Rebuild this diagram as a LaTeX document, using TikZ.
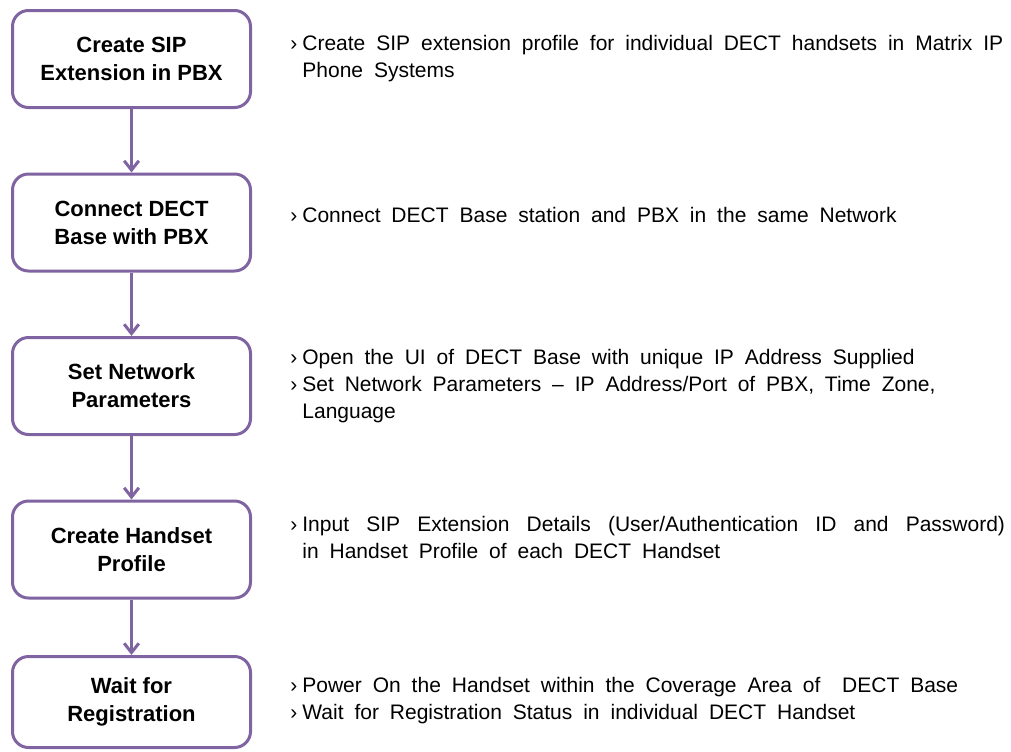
\documentclass[tikz,border=0pt]{standalone}
\usepackage{fontspec}
\setmainfont{Liberation Sans}
\newfontfamily\notefont[WordSpace=1.87]{Liberation Sans}
\usetikzlibrary{positioning,arrows.meta}
\definecolor{stepline}{HTML}{8064A2}
\tikzset{stepbox/.style = {draw=stepline, line width=2.25pt, rounded corners=12pt, fill=white, minimum width=178.5pt, minimum height=72.75pt, align=center, font=\bfseries\fontsize{16.5}{21}\selectfont}}
\tikzset{note/.style = {anchor=base west, align=left, inner sep=0pt, font=\notefont\fontsize{15.75}{20.25}\selectfont}}
\newcommand{\bul}{\makebox[9pt][l]{›}}
\newcommand{\ind}{\hspace*{9pt}}

\begin{document}
\begin{tikzpicture}[x=0.75pt, y=-0.75pt, >={Straight Barb[length=7pt, width=11pt]}, semithick]
  \useasboundingbox (0,0) rectangle (1011,751);

  \node [stepbox] (create) at (131.5,59) {Create SIP\\Extension in PBX};
  \node [stepbox] (connect) at (131.5,222.5) {Connect DECT\\Base with PBX};
  \node [stepbox] (network) at (131.5,386) {Set Network\\Parameters};
  \node [stepbox] (handset) at (131.5,549.5) {Create Handset\\Profile};
  \node [stepbox, minimum height=68.25pt] (wait) at (131.5,702) {Wait for\\Registration};

  \node [note] (createtxt) at (290,77) {\bul Create SIP extension profile for individual DECT handsets in Matrix IP\\\ind Phone Systems};
  \node [note] (connecttxt) at (290,222) {\bul Connect DECT Base station and PBX in the same Network};
  \node [note] (networktxt) at (290,418) {\bul Open the UI of DECT Base with unique IP Address Supplied\\\bul Set Network Parameters – IP Address/Port of PBX, Time Zone,\\\ind Language};
  \node [note] (handsettxt) at (290,558) {\bul \makebox[527pt][s]{Input SIP Extension Details (User/Authentication ID and Password)}\\\ind in Handset Profile of each DECT Handset};
  \node [note] (waittxt) at (290,719) {\bul Power On the Handset within the Coverage Area of~ DECT Base\\\bul Wait for Registration Status in individual DECT Handset};

  \path[->, draw=stepline, line width=2.25pt] (create) edge (connect);
  \path[->, draw=stepline, line width=2.25pt] (connect) edge (network);
  \path[->, draw=stepline, line width=2.25pt] (network) edge (handset);
  \path[->, draw=stepline, line width=2.25pt] (handset) edge (wait);
\end{tikzpicture}
\end{document}
